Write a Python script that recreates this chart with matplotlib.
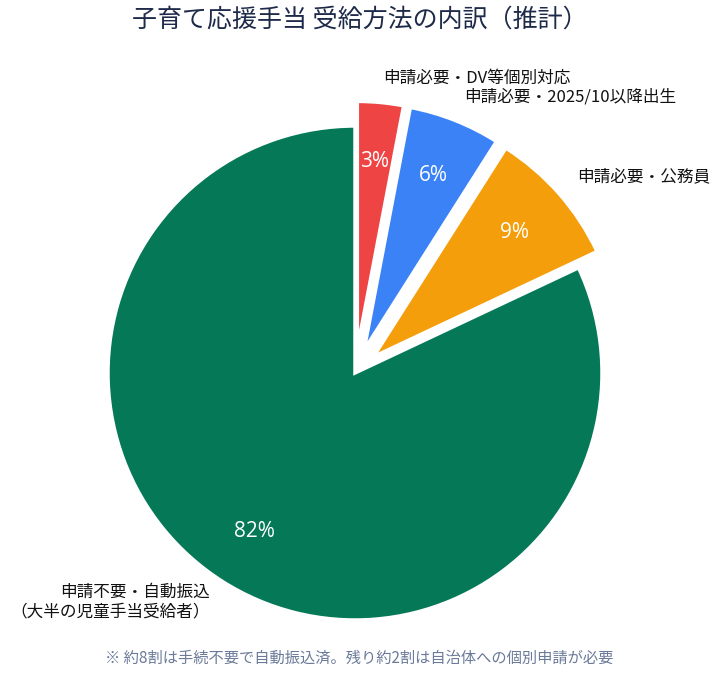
import numpy as np
import matplotlib.pyplot as plt
import matplotlib as mpl

mpl.rcParams['font.family'] = ['Noto Sans CJK JP', 'DejaVu Sans']

# data
labels = ['申請不要・自動振込\n（大半の児童手当受給者）', '申請必要・公務員',
          '申請必要・2025/10以降出生', '申請必要・DV等個別対応']
shares = [82, 9, 6, 3]
colors = ['#047857', '#F59E0B', '#3B82F6', '#EF4444']
explode = [0, 0.1, 0.1, 0.1]

title = '子育て応援手当 受給方法の内訳（推計）'
note = '※ 約8割は手続不要で自動振込済。残り約2割は自治体への個別申請が必要'

fig = plt.figure(figsize=(7.19, 6.84), dpi=100)
lim = 1.4
R = 247
cx, cy = 355, 373
ax = fig.add_axes([(cx - lim*R)/719, (684 - cy - lim*R)/684, 2*lim*R/719, 2*lim*R/684])
wedges, texts, autotexts = ax.pie(shares, labels=labels, colors=colors, explode=explode,
                                  startangle=90, counterclock=True,
                                  autopct='%1.0f%%', pctdistance=0.76, labeldistance=1.1,
                                  wedgeprops=dict(edgecolor='white', linewidth=2.5),
                                  textprops=dict(fontsize=12, color='#111111'))
for t in autotexts:
    t.set_color('white')
    t.set_fontsize(15)
    t.set_family(['Open Sans', 'DejaVu Sans'])
ax.set_xlim(-lim, lim)
ax.set_ylim(-lim, lim)
ax.set_aspect('equal')
ax.axis('off')

fig.text(0.5, 1 - 20/684, title, ha='center', va='center', fontsize=18, color='#1e2a4a')
fig.text(0.5, 1 - 658/684, note, ha='center', va='center', fontsize=11, color='#6b7a99')

fig.savefig('out.png', dpi=100)
